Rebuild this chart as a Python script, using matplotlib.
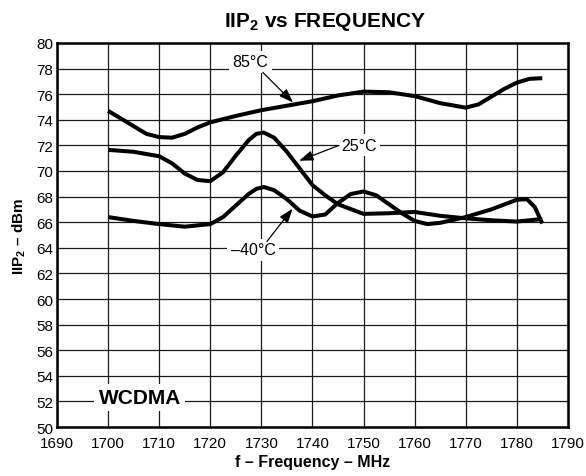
import matplotlib
matplotlib.use("Agg")
import matplotlib.pyplot as plt

plt.rcParams["font.family"] = ["Liberation Sans", "DejaVu Sans"]
plt.rcParams["mathtext.fontset"] = "custom"
plt.rcParams["mathtext.bf"] = "Liberation Sans:bold"
plt.rcParams["mathtext.rm"] = "Liberation Sans:bold"
plt.rcParams["mathtext.default"] = "bf"

# IIP2 (dBm) vs frequency (MHz)
f_85 = [1700, 1702.5, 1705, 1707.5, 1710, 1712.5, 1715, 1717.5, 1720, 1725, 1730,
        1735, 1740, 1745, 1750, 1755, 1760, 1765, 1770, 1772.5, 1775, 1777.5,
        1780, 1782.5, 1785]
iip2_85 = [74.7, 74.1, 73.5, 72.9, 72.65, 72.6, 72.9, 73.4, 73.8, 74.3, 74.75,
           75.1, 75.45, 75.9, 76.2, 76.15, 75.85, 75.3, 74.95, 75.2, 75.8, 76.4,
           76.9, 77.2, 77.25]

f_25 = [1700, 1705, 1710, 1712.5, 1715, 1717.5, 1720, 1722.5, 1725, 1727.5, 1729,
        1730.5, 1732.5, 1735, 1737.5, 1740, 1742.5, 1745, 1750, 1755, 1760, 1765,
        1770, 1775, 1780, 1785]
iip2_25 = [71.65, 71.5, 71.15, 70.6, 69.8, 69.3, 69.2, 69.9, 71.2, 72.4, 72.9,
           73.0, 72.6, 71.5, 70.2, 68.9, 68.1, 67.4, 66.65, 66.7, 66.8, 66.5,
           66.3, 66.15, 66.05, 66.25]

f_m40 = [1700, 1705, 1710, 1715, 1720, 1722.5, 1725, 1727.5, 1729, 1730.5, 1732.5,
         1735, 1737.5, 1740, 1742.5, 1745, 1747.5, 1750, 1752.5, 1755, 1757.5,
         1760, 1762.5, 1765, 1770, 1775, 1780, 1782, 1783.5, 1785]
iip2_m40 = [66.4, 66.1, 65.85, 65.65, 65.85, 66.4, 67.3, 68.2, 68.6, 68.75, 68.5,
            67.8, 66.9, 66.45, 66.6, 67.5, 68.2, 68.4, 68.1, 67.4, 66.7,
            66.1, 65.85, 65.95, 66.4, 67.0, 67.75, 67.8, 67.2, 65.9]

x_ticks = list(range(1690, 1791, 10))
y_ticks = list(range(50, 81, 2))

fig = plt.figure(figsize=(5.86, 4.77), dpi=100)
ax = fig.add_axes([0.0973, 0.1027, 0.8717, 0.8051])

for f, v in [(f_85, iip2_85), (f_25, iip2_25), (f_m40, iip2_m40)]:
    ax.plot(f, v, color="black", lw=2.9, solid_joinstyle="round",
            solid_capstyle="butt", zorder=3)

ax.set_xlim(1690, 1790)
ax.set_ylim(50, 80)
ax.set_xticks(x_ticks)
ax.set_yticks(y_ticks)
ax.tick_params(length=0, labelsize=11)
ax.tick_params(axis="x", pad=6.5)
ax.tick_params(axis="y", pad=2.5)
ax.grid(True, color="#1a1a1a", lw=0.9)
ax.set_axisbelow(True)
for s in ax.spines.values():
    s.set_linewidth(1.8)

ax.set_title("IIP$_2$ vs FREQUENCY", fontsize=15, fontweight="bold", pad=12, x=0.524)
ax.set_xlabel("f – Frequency – MHz", fontsize=11.5, fontweight="bold", labelpad=2.5)
ax.set_ylabel("IIP$_2$ – dBm", fontsize=11, fontweight="bold", labelpad=6)

box = dict(facecolor="white", edgecolor="none", pad=2.5)
arrow = dict(arrowstyle="-|>,head_length=0.5,head_width=0.18", color="black",
             lw=0.9, mutation_scale=17, shrinkA=0, shrinkB=0)

ax.text(1727.8, 78.55, "85°C", fontsize=11.5, ha="center", va="center", bbox=box, zorder=4)
ax.annotate("", xy=(1736.2, 75.35), xytext=(1730.3, 77.7), arrowprops=arrow, zorder=4)

ax.text(1749.1, 72.0, "25°C", fontsize=11.5, ha="center", va="center", bbox=box, zorder=4)
ax.annotate("", xy=(1737.4, 70.8), xytext=(1745.2, 72.0), arrowprops=arrow, zorder=4)

ax.text(1728.4, 63.85, "–40°C", fontsize=11.5, ha="center", va="center", bbox=box, zorder=4)
ax.annotate("", xy=(1736.1, 67.05), xytext=(1731.1, 64.5), arrowprops=arrow, zorder=4)

ax.text(1706.2, 52.3, "WCDMA", fontsize=15, fontweight="bold", ha="center",
        va="center", bbox=dict(facecolor="white", edgecolor="none", pad=3), zorder=4)

fig.savefig("out.png", dpi=100)
